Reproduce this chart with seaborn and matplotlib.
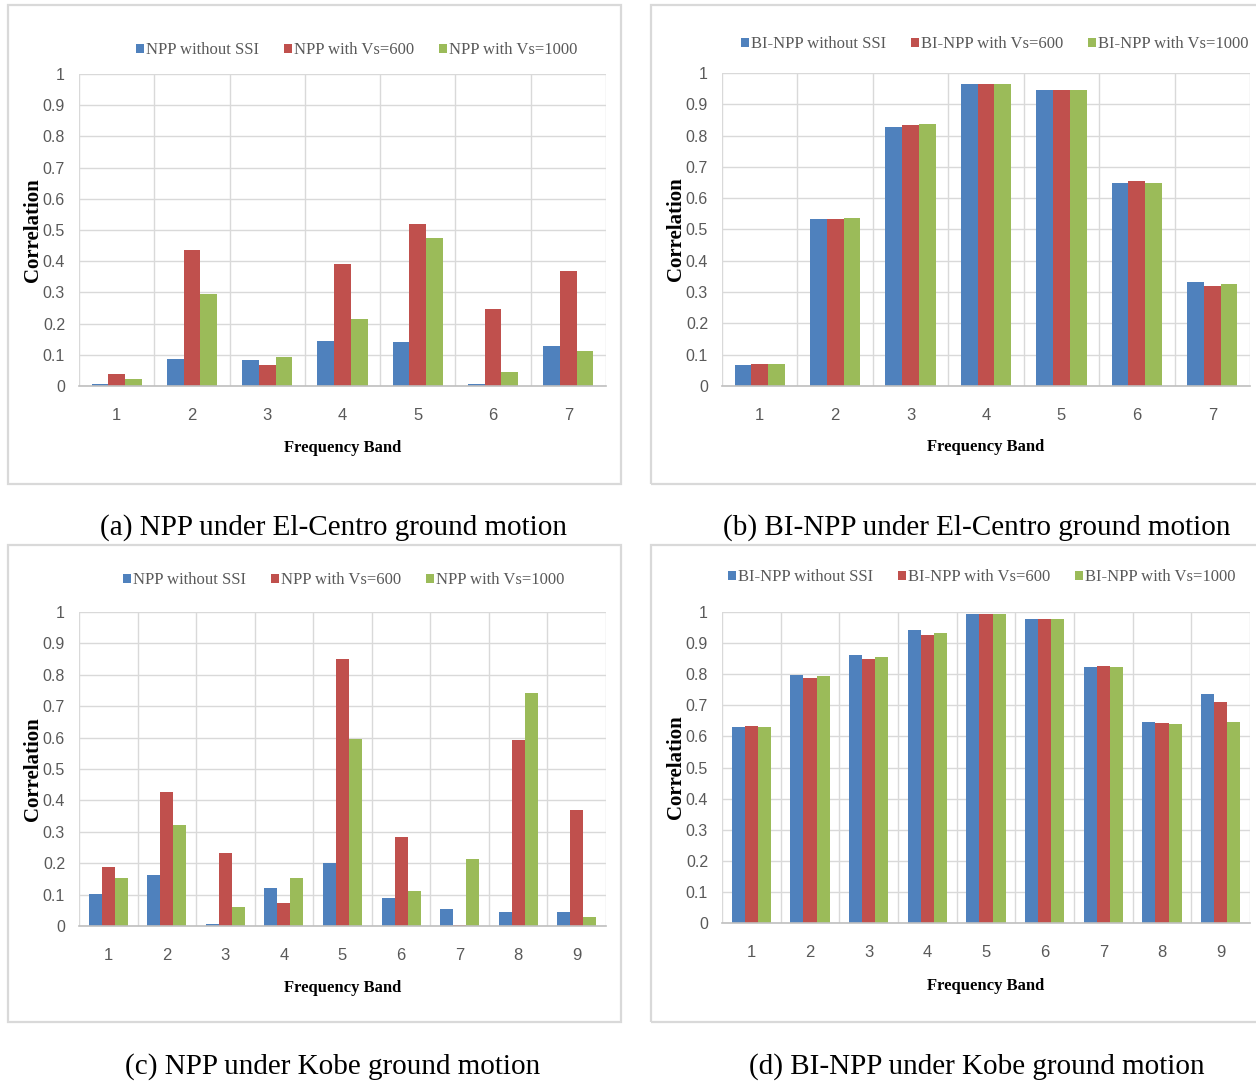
import matplotlib
matplotlib.use("Agg")
import matplotlib.pyplot as plt
import seaborn as sns
import pandas as pd
import numpy as np
from matplotlib.patches import Rectangle

# ---------------- data ----------------
bands7 = ["1", "2", "3", "4", "5", "6", "7"]
bands9 = ["1", "2", "3", "4", "5", "6", "7", "8", "9"]

npp_labels = ["NPP without SSI", "NPP with Vs=600", "NPP with Vs=1000"]
bi_labels = ["BI-NPP without SSI", "BI-NPP with Vs=600", "BI-NPP with Vs=1000"]

# (a) NPP under El-Centro
a_without = [0.007, 0.085, 0.082, 0.145, 0.140, 0.007, 0.128]
a_vs600 = [0.038, 0.437, 0.067, 0.391, 0.518, 0.246, 0.368]
a_vs1000 = [0.021, 0.296, 0.093, 0.215, 0.475, 0.044, 0.111]

# (b) BI-NPP under El-Centro
b_without = [0.066, 0.535, 0.828, 0.966, 0.947, 0.650, 0.332]
b_vs600 = [0.069, 0.535, 0.834, 0.966, 0.947, 0.654, 0.320]
b_vs1000 = [0.069, 0.537, 0.837, 0.966, 0.947, 0.650, 0.325]

# (c) NPP under Kobe
c_without = [0.103, 0.161, 0.006, 0.120, 0.200, 0.089, 0.054, 0.043, 0.046]
c_vs600 = [0.188, 0.427, 0.232, 0.074, 0.851, 0.284, 0.003, 0.593, 0.369]
c_vs1000 = [0.154, 0.321, 0.061, 0.154, 0.596, 0.110, 0.212, 0.741, 0.029]

# (d) BI-NPP under Kobe
d_without = [0.631, 0.798, 0.863, 0.942, 0.995, 0.977, 0.822, 0.646, 0.736]
d_vs600 = [0.633, 0.788, 0.848, 0.927, 0.995, 0.977, 0.825, 0.644, 0.710]
d_vs1000 = [0.631, 0.793, 0.854, 0.933, 0.995, 0.977, 0.822, 0.639, 0.646]

captions = [
    "(a) NPP under El-Centro ground motion",
    "(b) BI-NPP under El-Centro ground motion",
    "(c) NPP under Kobe ground motion",
    "(d) BI-NPP under Kobe ground motion",
]
y_ticks = [0, 0.1, 0.2, 0.3, 0.4, 0.5, 0.6, 0.7, 0.8, 0.9, 1]
x_title = "Frequency Band"
y_title = "Correlation"
colors = ["#4F81BD", "#C0504D", "#9BBB59"]

# ---------------- style ----------------
sns.set_theme(style="white")
plt.rcParams["font.family"] = ["Liberation Serif", "DejaVu Serif"]
tick_family = ["Liberation Sans", "DejaVu Sans"]

W, H = 1256, 1083
fig = plt.figure(figsize=(W / 100, H / 100), dpi=100)
fig.patch.set_facecolor("white")


def fx(px):
    return px / W


def fy(py):
    return 1 - py / H


panels = [
    dict(bands=bands7, series=[a_without, a_vs600, a_vs1000], labels=npp_labels,
         box=(8, 5, 621, 484), ax=(79, 74, 606, 386), legend=(357, 50),
         ylab_x=33, xlab_y=448, caption=(333, 528)),
    dict(bands=bands7, series=[b_without, b_vs600, b_vs1000], labels=bi_labels,
         box=(651, 5, 1262, 484), ax=(722, 73, 1250, 386), legend=(995, 44),
         ylab_x=676, xlab_y=447, caption=(977, 528)),
    dict(bands=bands9, series=[c_without, c_vs600, c_vs1000], labels=npp_labels,
         box=(8, 545, 621, 1022), ax=(79, 612, 606, 926), legend=(344, 580),
         ylab_x=33, xlab_y=988, caption=(333, 1067)),
    dict(bands=bands9, series=[d_without, d_vs600, d_vs1000], labels=bi_labels,
         box=(651, 545, 1262, 1022), ax=(722, 612, 1250, 923), legend=(982, 577),
         ylab_x=676, xlab_y=986, caption=(977, 1067)),
]

for i, p in enumerate(panels):
    # panel frame
    x0, y0, x1, y1 = p["box"]
    fig.add_artist(Rectangle((fx(x0), fy(y1)), (x1 - x0) / W, (y1 - y0) / H,
                             transform=fig.transFigure, fill=False,
                             edgecolor="#D9D9D9", linewidth=1.6))

    l, t, r, b = p["ax"]
    ax = fig.add_axes([fx(l), fy(b), (r - l) / W, (b - t) / H])
    n = len(p["bands"])
    df = pd.DataFrame({
        "band": p["bands"] * 3,
        "corr": p["series"][0] + p["series"][1] + p["series"][2],
        "series": sum([[lab] * n for lab in p["labels"]], []),
    })
    sns.barplot(data=df, x="band", y="corr", hue="series", hue_order=p["labels"],
                order=p["bands"], palette=colors, width=0.667, saturation=1,
                linewidth=0, ax=ax)

    ax.set_ylim(0, 1)
    ax.set_xlim(-0.5, n - 0.5)
    ax.set_yticks(y_ticks)
    ax.set_yticklabels([f"{v:g}" for v in y_ticks])
    ax.set_xticks(np.arange(-0.5, n, 1.0), minor=True)
    ax.set_axisbelow(True)
    ax.grid(axis="y", which="major", color="#D9D9D9", linewidth=1)
    ax.grid(axis="x", which="minor", color="#D9D9D9", linewidth=1)
    ax.grid(axis="x", which="major", visible=False)
    ax.tick_params(which="both", length=0)
    ax.tick_params(axis="x", pad=16, labelsize=12, labelcolor="#595959")
    ax.tick_params(axis="y", pad=10, labelsize=11.5, labelcolor="#595959")
    for lab in ax.get_xticklabels() + ax.get_yticklabels():
        lab.set_family(tick_family)
    for s in ["left", "top", "right"]:
        ax.spines[s].set_visible(False)
    ax.spines["bottom"].set_color("#BFBFBF")
    ax.spines["bottom"].set_linewidth(1.2)

    ax.set_xlabel(x_title, fontsize=12, fontweight="bold", color="black")
    ax.set_ylabel(y_title, fontsize=15, fontweight="bold", color="black")
    ax.xaxis.label.set_va("center")
    ax.yaxis.label.set_va("center")
    ax.xaxis.set_label_coords(0.5, (b - p["xlab_y"]) / (b - t))
    ax.yaxis.set_label_coords((p["ylab_x"] - l) / (r - l), 0.5)

    cx, cy = p["legend"]
    sns.move_legend(ax, "center", bbox_to_anchor=(fx(cx), fy(cy)),
                    bbox_transform=fig.transFigure, ncol=3, title=None,
                    frameon=False, fontsize=12, handlelength=0.45,
                    handleheight=0.45, handletextpad=0.15, columnspacing=1.5,
                    labelcolor="#595959")

    ccx, ccy = p["caption"]
    fig.text(fx(ccx), fy(ccy), captions[i], ha="center", va="center",
             fontsize=21, color="black")

fig.savefig("out.png", dpi=100, facecolor="white")
